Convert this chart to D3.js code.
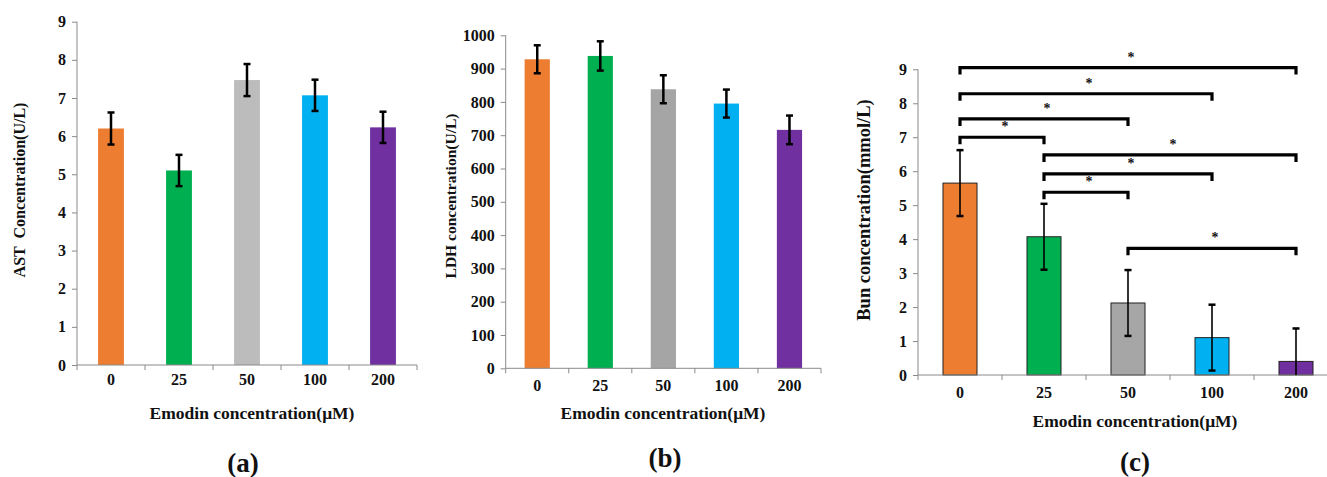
<!DOCTYPE html>
<html><head><meta charset="utf-8">
<script src="https://cdn.jsdelivr.net/npm/d3@7/dist/d3.min.js"></script>
<style>
html,body{margin:0;padding:0;background:#fff;}
svg text{font-family:"Liberation Serif","Times New Roman",serif;font-weight:bold;fill:#111;}
</style></head>
<body><svg id="c" width="1327" height="477"></svg>
<script>
const categories = ["0","25","50","100","200"];
const astMean = [6.2, 5.1, 7.47, 7.07, 6.23];
const astErr  = [0.42, 0.41, 0.42, 0.41, 0.41];
const ldhMean = [928, 938, 838, 795, 716];
const ldhErr  = [42, 44, 42, 42, 43];
const bunMean = [5.65, 4.07, 2.12, 1.1, 0.4];
const bunErr  = [0.97, 0.97, 0.97, 0.97, 0.97];
const astTicks = [0,1,2,3,4,5,6,7,8,9];
const ldhTicks = [0,100,200,300,400,500,600,700,800,900,1000];
const bunTicks = [0,1,2,3,4,5,6,7,8,9];
const colorsA = ["#ED7D31","#00B050","#BCBCBC","#00B0F0","#7030A0"];
const colorsB = ["#ED7D31","#00B050","#A5A5A5","#00B0F0","#7030A0"];
const colorsC = ["#ED7D31","#00B050","#A6A6A6","#00B0F0","#7030A0"];
const bracketFrom  = [0,0,0,0,1,1,1,2];
const bracketTo    = [4,3,2,1,4,3,2,4];
const bracketLevel = [9.05,8.28,7.54,7.0,6.48,5.92,5.38,3.73];
const bracketMark  = ["*","*","*","*","*","*","*","*"];

const svg = d3.select("#c");
const axisColor = "#8a8a8a";

function panel(o){
  const g = svg.append("g");
  const x = d3.scaleBand().domain(categories).range([o.x0,o.x1])
      .paddingInner(o.pad).paddingOuter(o.pad/2);
  const y = d3.scaleLinear().domain(o.ydom).range([o.y0,o.y1]);
  g.selectAll("rect.bar").data(o.mean).join("rect")
    .attr("x",(d,i)=>x(categories[i])).attr("width",x.bandwidth())
    .attr("y",d=>y(d)).attr("height",d=>y(0)-y(d))
    .attr("fill",(d,i)=>o.colors[i])
    .attr("stroke",o.barStroke||"none").attr("stroke-width",o.barStroke?1:0);
  const ya = g.append("g").attr("transform",`translate(${o.x0},0)`)
    .call(d3.axisLeft(y).tickValues(o.ticks).tickSize(5).tickPadding(6).tickFormat(d3.format("d")));
  ya.select(".domain").attr("stroke",axisColor).attr("d",`M0,${o.y0}V${o.y1}`);
  ya.selectAll(".tick line").attr("stroke",axisColor);
  ya.selectAll(".tick text").style("font-size","16px").attr("fill","#111");
  const xa = g.append("g").attr("transform",`translate(0,${o.y0})`)
    .call(d3.axisBottom(x).tickSize(0).tickPadding(o.xpad));
  xa.select(".domain").attr("stroke",axisColor).attr("d",`M${o.x0},0H${o.xend}`);
  xa.selectAll(".tick text").style("font-size","16px").attr("fill","#111");
  const step = x.step();
  const bounds = d3.range(categories.length+1).map(i=>x(categories[0]) - x.paddingOuter()*step + i*step);
  xa.selectAll("line.bt").data(bounds).join("line").attr("class","bt")
    .attr("x1",d=>d).attr("x2",d=>d).attr("y1",0).attr("y2",5).attr("stroke",axisColor);
  const cx = i => x(categories[i]) + x.bandwidth()/2;
  o.mean.forEach((m,i)=>{
    const top = m + o.err[i], bot = Math.max(0, m - o.err[i]);
    g.append("line").attr("x1",cx(i)).attr("x2",cx(i)).attr("y1",y(top)).attr("y2",y(bot))
      .attr("stroke","#000").attr("stroke-width",o.ew);
    g.append("line").attr("x1",cx(i)-3.5).attr("x2",cx(i)+3.5).attr("y1",y(top)).attr("y2",y(top))
      .attr("stroke","#000").attr("stroke-width",2.5);
    if (m - o.err[i] > 0)
      g.append("line").attr("x1",cx(i)-3.5).attr("x2",cx(i)+3.5).attr("y1",y(bot)).attr("y2",y(bot))
        .attr("stroke","#000").attr("stroke-width",2.5);
  });
  g.append("text").attr("x",o.tx).attr("y",o.ty).attr("text-anchor","middle")
    .style("font-size","17.5px").text("Emodin concentration(μM)");
  g.append("text").attr("transform",`translate(${o.lx},${o.ly}) rotate(-90)`)
    .attr("text-anchor","middle").style("font-size",o.lfs+"px").style("white-space","pre").text(o.ylabel);
  g.append("text").attr("x",o.px).attr("y",o.py).attr("text-anchor","middle")
    .style("font-size","27px").text(o.plabel);
  return {g,x,y,cx};
}

panel({x0:77,x1:417,xend:417,y0:365,y1:21.7,ydom:[0,9],pad:0.62,mean:astMean,err:astErr,
  colors:colorsA,ticks:astTicks,xpad:9,ew:2.5,tx:252,ty:419,lx:25,ly:190,lfs:16,
  ylabel:"AST  Concentration(U/L)",px:243,py:472,plabel:"(a)"});

panel({x0:505.7,x1:821,xend:821,y0:368.3,y1:35.3,ydom:[0,1000],pad:0.6,mean:ldhMean,err:ldhErr,
  colors:colorsB,ticks:ldhTicks,xpad:11,ew:2.5,tx:663,ty:419,lx:456,ly:196,lfs:15.5,
  ylabel:"LDH concentration(U/L)",px:665,py:467,plabel:"(b)"});

const pc = panel({x0:918,x1:1338,xend:1327,y0:375,y1:69.3,ydom:[0,9],pad:0.595,mean:bunMean,err:bunErr,
  colors:colorsC,ticks:bunTicks,xpad:12,ew:1.6,barStroke:"#222",tx:1135,ty:427,lx:870,ly:210,lfs:18.5,
  ylabel:"Bun concentration(mmol/L)",px:1135,py:471,plabel:"(c)"});

bracketFrom.forEach((f,i)=>{
  const x1 = pc.cx(f), x2 = pc.cx(bracketTo[i]), yy = pc.y(bracketLevel[i]);
  pc.g.append("path").attr("d",`M${x1},${yy+7}V${yy}H${x2}V${yy+7}`)
    .attr("fill","none").attr("stroke","#000").attr("stroke-width",3.2);
  pc.g.append("text").attr("x",(x1+x2)/2+3).attr("y",yy-6).attr("text-anchor","middle")
    .style("font-size","14px").text(bracketMark[i]);
});
</script></body></html>
